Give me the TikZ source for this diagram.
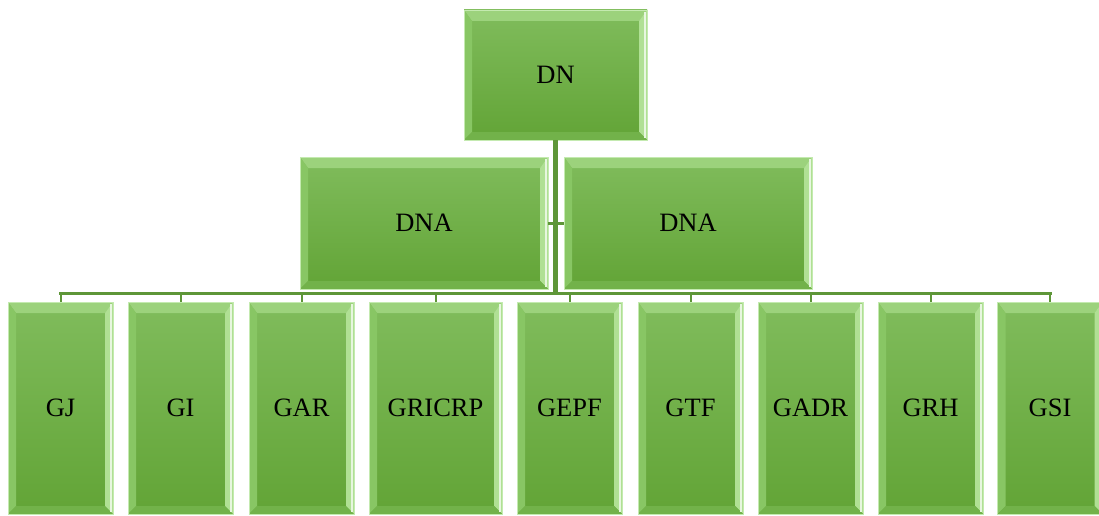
\documentclass[tikz,border=0pt]{standalone}
\usepackage{fontspec}
\setmainfont{Liberation Serif}
\definecolor{gtop}{RGB}{128,188,92}
\definecolor{gbot}{RGB}{98,164,54}
\definecolor{bevtopc}{RGB}{156,210,124}
\definecolor{bevleftc}{RGB}{136,198,100}
\definecolor{bevrightc}{RGB}{176,224,148}
\definecolor{bevbotc}{RGB}{114,178,74}
\definecolor{rimc}{RGB}{196,234,176}
\definecolor{linkc}{RGB}{94,150,56}
% bevelled faces drawn inside every box
\newcommand\boxbevels{%
  \coordinate (bnw) at (path picture bounding box.north west);
  \coordinate (bne) at (path picture bounding box.north east);
  \coordinate (bsw) at (path picture bounding box.south west);
  \coordinate (bse) at (path picture bounding box.south east);
  \fill[bevtopc] (bnw) -- (bne) -- ([shift={(-8pt,-11pt)}]bne) -- ([shift={(8pt,-11pt)}]bnw) -- cycle;
  \fill[bevleftc] (bnw) -- ([shift={(8pt,-11pt)}]bnw) -- ([shift={(8pt,8pt)}]bsw) -- (bsw) -- cycle;
  \fill[bevrightc] (bne) -- ([shift={(-8pt,-11pt)}]bne) -- ([shift={(-8pt,8pt)}]bse) -- (bse) -- cycle;
  \fill[bevbotc] (bsw) -- ([shift={(8pt,8pt)}]bsw) -- ([shift={(-8pt,8pt)}]bse) -- (bse) -- cycle;
  \draw[white!70!bevrightc, line width=2pt] ([shift={(-2pt,-2pt)}]bne) -- ([shift={(-2pt,2pt)}]bse);
}
\tikzset{
  lvlbox/.style={draw=rimc, line width=0.7pt, inner sep=0pt, outer sep=0pt,
    top color=gtop, bottom color=gbot, text=black,
    font=\fontsize{26.5}{31}\selectfont, path picture={\boxbevels}},
  topbox/.style={lvlbox, minimum width=183pt, minimum height=130pt},
  midbox/.style={lvlbox, minimum width=248pt, minimum height=132pt},
  lowbox/.style={lvlbox, minimum width=105pt, minimum height=212pt},
  trunk/.style={draw=linkc, line width=5pt},
  bus/.style={draw=linkc, line width=3pt},
  stem/.style={draw=linkc, line width=2pt},
}
\begin{document}
\begin{tikzpicture}[x=1pt,y=-1pt]
  \clip (0,0) rectangle (1099,516);
  \fill[white] (0,0) rectangle (1099,516);

  % ends of the horizontal bus above the lowest row
  \coordinate (busL) at (60.5,293);
  \coordinate (busR) at (1050,293);
  \coordinate (busM) at (555.5,293);

  \node[topbox] (DN) at (555.5,75) {DN};
  \node[midbox] (DNA1) at (424,223) {DNA};
  \node[midbox] (DNA2) at (688,223) {DNA};

  \node[lowbox] (GJ) at (60.5,408) {GJ};
  \node[lowbox] (GI) at (180.5,408) {GI};
  \node[lowbox] (GAR) at (301.5,408) {GAR};
  \node[lowbox, minimum width=133pt] (GRICRP) at (435.5,408) {GRICRP};
  \node[lowbox] (GEPF) at (569.5,408) {GEPF};
  \node[lowbox] (GTF) at (690.5,408) {GTF};
  \node[lowbox] (GADR) at (810.5,408) {GADR};
  \node[lowbox] (GRH) at (930.5,408) {GRH};
  \node[lowbox] (GSI) at (1050,408) {GSI};

  % tree lines
  \draw[trunk] (DN.south) -- (busM);
  \draw[bus] (DNA1.east) -- (DNA2.west);
  \draw[bus, line cap=rect] (busL) -- (busR);
  \foreach \n in {GJ,GI,GAR,GRICRP,GEPF,GTF,GADR,GRH,GSI}
    \draw[stem] (\n.north) -- (\n.north |- busL);
\end{tikzpicture}
\end{document}
